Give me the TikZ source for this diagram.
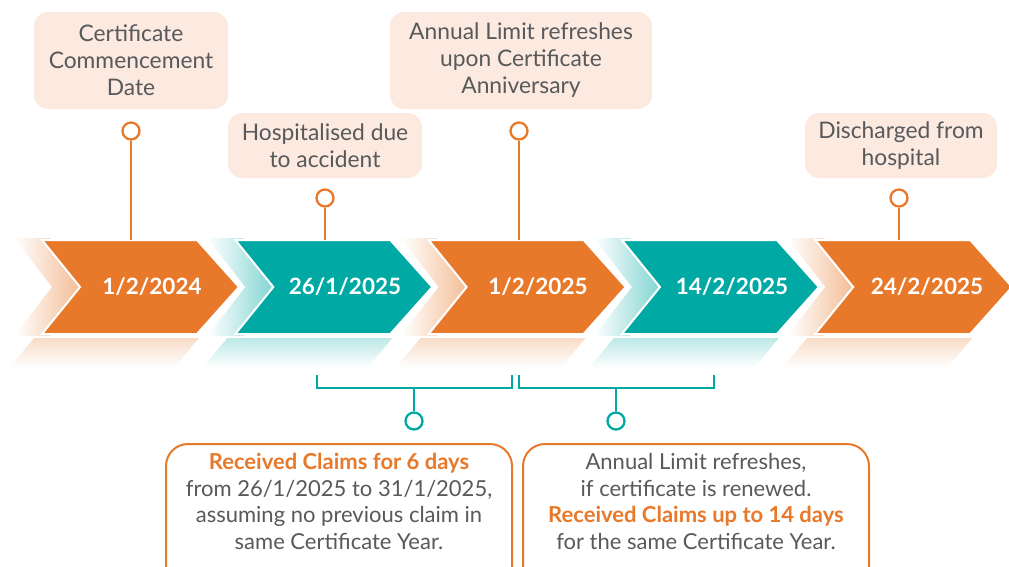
\documentclass[tikz,border=0pt]{standalone}
\usepackage{fontspec}
\setmainfont{Lato}
\usepackage{tikz}
\usetikzlibrary{positioning}

\definecolor{orng}{HTML}{E8792A}
\definecolor{teal}{HTML}{00A9A4}
\definecolor{peach}{HTML}{FCE9DF}
\definecolor{txtgray}{HTML}{58595B}

\begin{document}
\begin{tikzpicture}[x=1pt,y=-1pt,
  tag/.style={fill=peach, rounded corners=14pt, align=center, text=txtgray, inner sep=0pt,
    font=\fontsize{22.8}{27}\selectfont},
  ring/.style={circle, draw=orng, fill=white, line width=2.3pt, minimum size=17pt, inner sep=0pt},
  tring/.style={ring, draw=teal},
  stem/.style={orng, line width=2.5pt},
  tstem/.style={teal, line width=2.5pt},
  date/.style={text=white, font=\fontsize{22.5}{27}\selectfont\bfseries},
  claim/.style={draw=orng, line width=2pt, rounded corners=22pt, fill=white},
  claimtext/.style={align=center, text=txtgray, inner sep=0pt, font=\fontsize{22}{26.7}\selectfont}]
\useasboundingbox (0,0) rectangle (1009,566);

% shadows and reflections
\foreach \i/\c in {0/orng,1/teal,2/orng,3/teal,4/orng}{
  \pgfmathsetmacro\x{42+193.3*\i}
  \shade[left color=white, right color=\c!55] (\x-28,238) -- (\x+8,238) -- (\x+46,287) -- (\x+8,336) -- (\x-28,336) -- (\x+10,287) -- cycle;
  \shade[top color=\c!26, bottom color=white] (\x-8,338) -- (\x+157,338) -- (\x+132,368) -- (\x-33,368) -- cycle;
}
% arrows
\foreach \i/\c in {0/orng,1/teal,2/orng,3/teal,4/orng}{
  \pgfmathsetmacro\x{42+193.3*\i}
  \fill[\c, draw=white, line width=2pt] (\x,240) -- (\x+155,240) -- (\x+197,287) -- (\x+155,334) -- (\x,334) -- (\x+38,287) -- cycle;
}

\node[date] (d1) at (152,287) {1/2/2024};
\node[date] (d2) at (345,287) {26/1/2025};
\node[date] (d3) at (538,287) {1/2/2025};
\node[date] (d4) at (732,287) {14/2/2025};
\node[date] (d5) at (927,287) {24/2/2025};

% top notes
\node[tag, minimum width=194pt, minimum height=97pt] (t1) at (131,60.5) {Certificate\\Commencement\\Date};
\node[tag, minimum width=194pt, minimum height=65pt] (t2) at (325,145.5) {Hospitalised due\\to accident};
\node[tag, minimum width=262pt, minimum height=97pt] (t3) at (521,60.5) {Annual Limit refreshes\\upon Certificate\\Anniversary};
\node[tag, minimum width=192pt, minimum height=65pt] (t4) at (901,145.5) {Discharged from\\hospital};

\node[ring] (r1) at (131,131) {};
\node[ring] (r2) at (325,198) {};
\node[ring] (r3) at (519,131) {};
\node[ring] (r4) at (899,198) {};

\coordinate (a1) at (131,240);
\coordinate (a2) at (325,240);
\coordinate (a3) at (519,240);
\coordinate (a4) at (899,240);

\draw[stem] (r1) -- (a1);
\draw[stem] (r2) -- (a2);
\draw[stem] (r3) -- (a3);
\draw[stem] (r4) -- (a4);

% brackets
\draw[tstem] (317,375) |- (512,388) -- (512,375);
\draw[tstem] (519,375) |- (714,388) -- (714,375);
\coordinate (k1) at (414,388);
\coordinate (k2) at (616,388);
\node[tring] (q1) at (414,421) {};
\node[tring] (q2) at (616,421) {};
\draw[tstem] (k1) -- (q1);
\draw[tstem] (k2) -- (q2);

% claim boxes
\node[claim, minimum width=346pt, minimum height=160pt, anchor=north] (b1) at (339,443) {};
\node[claim, minimum width=346pt, minimum height=160pt, anchor=north] (b2) at (696,443) {};
\node[claimtext, below=10pt of b1.north] (n1) {{\color{orng}\bfseries Received Claims for 6 days}\\from 26/1/2025 to 31/1/2025,\\assuming no previous claim in\\same Certificate Year.};
\node[claimtext, below=10pt of b2.north] (n2) {Annual Limit refreshes,\\if certificate is renewed.\\{\color{orng}\bfseries Received Claims up to 14 days}\\for the same Certificate Year.};
\end{tikzpicture}
\end{document}
